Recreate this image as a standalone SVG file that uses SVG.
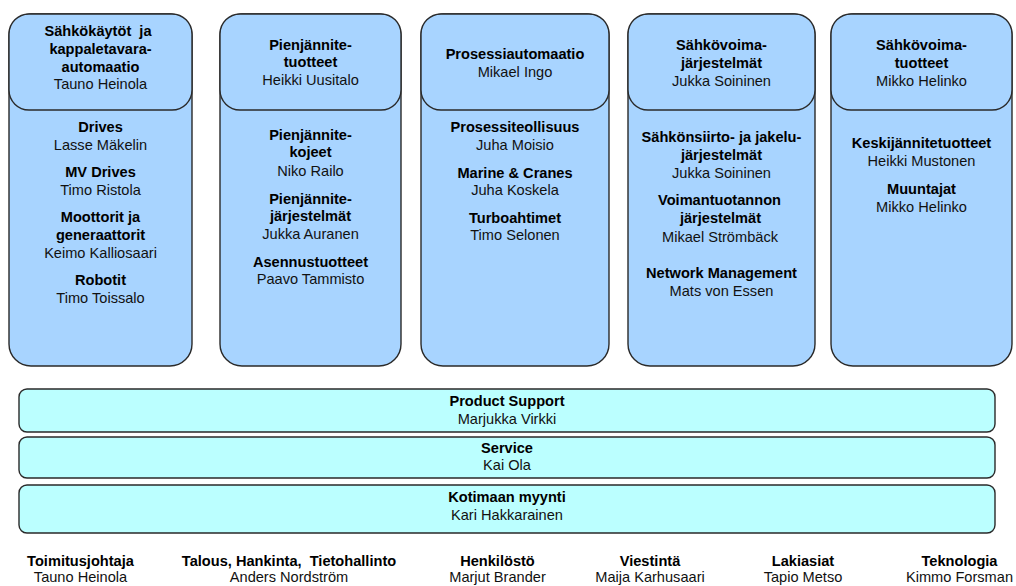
<svg xmlns="http://www.w3.org/2000/svg" width="1016" height="586" viewBox="0 0 1016 586">
<style>
  .col { fill: #A8D4FF; stroke: #2a2a2a; stroke-width: 1.4; }
  .hdr { fill: #A8D4FF; stroke: #2a2a2a; stroke-width: 1.4; }
  .bar { fill: #BBFFFF; stroke: #2a2a2a; stroke-width: 1.4; }
  text { font-family: "Liberation Sans", Arial, sans-serif; font-size: 14.6px; text-anchor: middle; fill: #111; white-space: pre; }
  .b { font-weight: bold; fill: #000; }
</style>
<rect width="1016" height="586" fill="#ffffff"/>

<g id="col-sahkokaytot">
  <rect class="col" x="9" y="14" width="183" height="352" rx="22"/>
  <rect class="hdr" x="9" y="14" width="183" height="96" rx="20"/>
  <text class="b" x="98" y="36" xml:space="preserve">Sähkökäytöt  ja</text>
  <text class="b" x="100.5" y="54">kappaletavara-</text>
  <text class="b" x="100.5" y="71.5">automaatio</text>
  <text x="100.5" y="89">Tauno Heinola</text>
  <text class="b" x="100.5" y="131.5">Drives</text>
  <text x="100.5" y="149.5">Lasse Mäkelin</text>
  <text class="b" x="100.5" y="177">MV Drives</text>
  <text x="100.5" y="194.5">Timo Ristola</text>
  <text class="b" x="100.5" y="222">Moottorit ja</text>
  <text class="b" x="100.5" y="239.5">generaattorit</text>
  <text x="100.5" y="257.5">Keimo Kalliosaari</text>
  <text class="b" x="100.5" y="285">Robotit</text>
  <text x="100.5" y="302.5">Timo Toissalo</text>
</g>

<g id="col-pienjannitetuotteet">
  <rect class="col" x="220" y="14" width="181" height="352" rx="22"/>
  <rect class="hdr" x="220" y="14" width="181" height="96" rx="20"/>
  <text class="b" x="310.5" y="49.5">Pienjännite-</text>
  <text class="b" x="310.5" y="67">tuotteet</text>
  <text x="310.5" y="84.5">Heikki Uusitalo</text>
  <text class="b" x="310.5" y="139.5">Pienjännite-</text>
  <text class="b" x="310.5" y="157">kojeet</text>
  <text x="310.5" y="175.5">Niko Railo</text>
  <text class="b" x="310.5" y="203.5">Pienjännite-</text>
  <text class="b" x="310.5" y="221">järjestelmät</text>
  <text x="310.5" y="239">Jukka Auranen</text>
  <text class="b" x="310.5" y="266.5">Asennustuotteet</text>
  <text x="310.5" y="284">Paavo Tammisto</text>
</g>

<g id="col-prosessiautomaatio">
  <rect class="col" x="421" y="14" width="188" height="352" rx="22"/>
  <rect class="hdr" x="421" y="14" width="188" height="96" rx="20"/>
  <text class="b" x="515" y="59">Prosessiautomaatio</text>
  <text x="515" y="76.5">Mikael Ingo</text>
  <text class="b" x="515" y="132">Prosessiteollisuus</text>
  <text x="515" y="150">Juha Moisio</text>
  <text class="b" x="515" y="177.5">Marine &amp; Cranes</text>
  <text x="515" y="195">Juha Koskela</text>
  <text class="b" x="515" y="222.5">Turboahtimet</text>
  <text x="515" y="240">Timo Selonen</text>
</g>

<g id="col-sahkovoimajarjestelmat">
  <rect class="col" x="628" y="14" width="187" height="352" rx="22"/>
  <rect class="hdr" x="628" y="14" width="187" height="96" rx="20"/>
  <text class="b" x="721.5" y="50">Sähkövoima-</text>
  <text class="b" x="721.5" y="67.5">järjestelmät</text>
  <text x="721.5" y="85.5">Jukka Soininen</text>
  <text class="b" x="721.5" y="142">Sähkönsiirto- ja jakelu-</text>
  <text class="b" x="721.5" y="160">järjestelmät</text>
  <text x="721.5" y="178">Jukka Soininen</text>
  <text class="b" x="719.5" y="205">Voimantuotannon</text>
  <text class="b" x="720.5" y="223">järjestelmät</text>
  <text x="720" y="241.5">Mikael Strömbäck</text>
  <text class="b" x="721.5" y="278">Network Management</text>
  <text x="721.5" y="296">Mats von Essen</text>
</g>

<g id="col-sahkovoimatuotteet">
  <rect class="col" x="831" y="14" width="181" height="352" rx="22"/>
  <rect class="hdr" x="831" y="14" width="181" height="96" rx="20"/>
  <text class="b" x="921.5" y="49.5">Sähkövoima-</text>
  <text class="b" x="921.5" y="67.5">tuotteet</text>
  <text x="921.5" y="85.5">Mikko Helinko</text>
  <text class="b" x="921.5" y="148">Keskijännitetuotteet</text>
  <text x="921.5" y="166">Heikki Mustonen</text>
  <text class="b" x="921.5" y="193.5">Muuntajat</text>
  <text x="921.5" y="211.5">Mikko Helinko</text>
</g>

<g id="bar-product-support">
  <rect class="bar" x="19" y="389" width="976" height="43" rx="8"/>
  <text class="b" x="507" y="406">Product Support</text>
  <text x="507" y="423.5">Marjukka Virkki</text>
</g>

<g id="bar-service">
  <rect class="bar" x="19" y="437" width="976" height="41" rx="8"/>
  <text class="b" x="507" y="452.5">Service</text>
  <text x="507" y="470">Kai Ola</text>
</g>

<g id="bar-kotimaan-myynti">
  <rect class="bar" x="19" y="485" width="976" height="48" rx="8"/>
  <text class="b" x="507" y="501.5">Kotimaan myynti</text>
  <text x="507" y="519.5">Kari Hakkarainen</text>
</g>

<g id="staff-toimitusjohtaja">
  <text class="b" x="80.5" y="566">Toimitusjohtaja</text>
  <text x="80.5" y="582">Tauno Heinola</text>
</g>
<g id="staff-talous">
  <text class="b" x="289" y="566" xml:space="preserve">Talous, Hankinta,  Tietohallinto</text>
  <text x="289" y="582">Anders Nordström</text>
</g>
<g id="staff-henkilosto">
  <text class="b" x="497.5" y="566">Henkilöstö</text>
  <text x="497.5" y="582">Marjut Brander</text>
</g>
<g id="staff-viestinta">
  <text class="b" x="650" y="566">Viestintä</text>
  <text x="650" y="582">Maija Karhusaari</text>
</g>
<g id="staff-lakiasiat">
  <text class="b" x="803" y="566">Lakiasiat</text>
  <text x="803" y="582">Tapio Metso</text>
</g>
<g id="staff-teknologia">
  <text class="b" x="959.5" y="566">Teknologia</text>
  <text x="959.5" y="582">Kimmo Forsman</text>
</g>

<g id="connectors"></g>
</svg>
